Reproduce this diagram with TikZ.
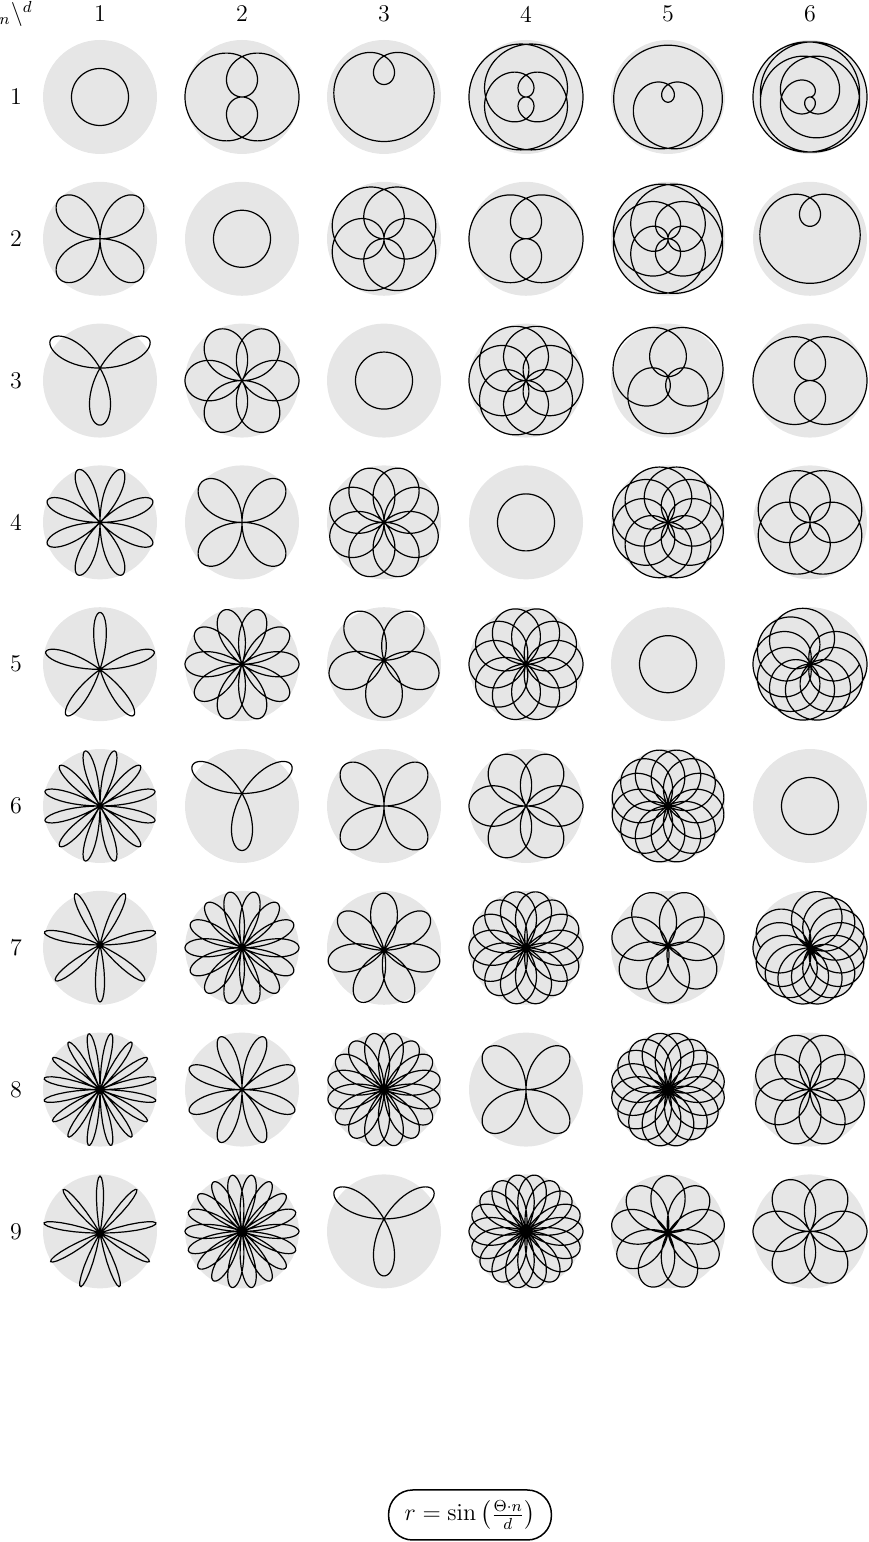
\documentclass[tikz,border=0pt]{standalone}
\usepackage{amsmath}
\usepackage{tikz}
\usetikzlibrary{positioning}
\definecolor{DiscGray}{HTML}{E6E6E6}

\begin{document}
\begin{tikzpicture}[x=0.5pt, y=0.5pt, font=\fontsize{12}{14}\selectfont]
  \def\R{28.5pt}\def\dx{142}\def\dy{141.8}
  \useasboundingbox (0,0) rectangle (868,1542);
  % header
  \node (corner) at (16,1528) {${}_n\backslash^d$};
  \foreach \dd in {1,...,6}{
     \node (col\dd) at ({100+(\dd-1)*\dx},1528) {\dd};}
  % grid of roses r = sin(n t / d)
  \foreach \nn in {1,...,9}{
     \node (row\nn) at (16,{1445-(\nn-1)*\dy}) {\nn};
     \foreach \dd in {1,...,6}{
        \fill[DiscGray] ({100+(\dd-1)*\dx},{1445-(\nn-1)*\dy}) circle (57);
        \node[inner sep=0pt] (rose\nn\dd) at ({100+(\dd-1)*\dx},{1445-(\nn-1)*\dy})
          {\tikz[x=\R,y=\R]\draw[line width=0.6pt] plot[domain=0:1800,samples=1201,variable=\t]
            ({sin(\t/\dd*\nn)*cos(\t)},{sin(\t/\dd*\nn)*sin(\t)});};}}
  % formula
  \node[draw, line width=0.75pt, rounded corners=12pt, minimum height=25pt, inner xsep=8pt]
     (formula) at (470,27) {$r=\sin\left(\frac{\Theta\cdot n}{d}\right)$};
\end{tikzpicture}
\end{document}
